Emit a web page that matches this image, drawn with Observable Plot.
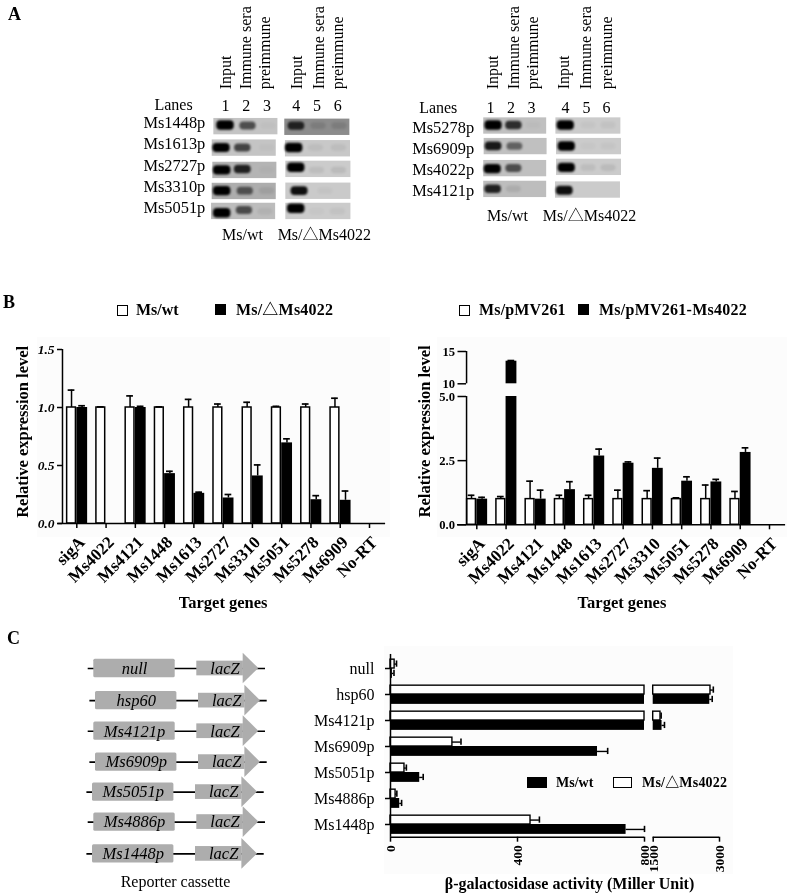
<!DOCTYPE html>
<html><head><meta charset="utf-8">
<script src="https://cdn.jsdelivr.net/npm/d3@7"></script>
<script src="https://cdn.jsdelivr.net/npm/@observablehq/plot@0.6"></script>
<style>
html,body{margin:0;padding:0;background:#fff}
#page{position:relative;width:787px;height:894px;overflow:hidden;filter:blur(.35px);font-family:"Liberation Serif","Noto Sans CJK SC",serif;color:#000}
#page svg{position:absolute;background:transparent;overflow:visible;max-width:none}
.t{position:absolute;white-space:nowrap;line-height:1;font-weight:bold}
.sw{position:absolute;box-sizing:border-box;border:1.6px solid #000}
.bg{position:absolute;background:#fcfcfc}
</style></head><body><div id="page"></div>
<script>
// ---------- Panel A : gel readings (one row per promoter, one value per lane)
const gelLanesL = ["1","2","3","4","5","6"];
const gelHeaders = ["Input","Immune sera","preimmune","Input","Immune sera","preimmune"];
const promotersL = ["Ms1448p","Ms1613p","Ms2727p","Ms3310p","Ms5051p"];
const promotersR = ["Ms5278p","Ms6909p","Ms4022p","Ms4121p"];
const signalL = [[1,.55,.02,.7,.1,.1],[.95,.6,.02,1,.05,.05],[1,.75,.02,1,.06,.07],[1,.5,.07,.85,.03,0],[1,.55,.05,1,.02,.04]];
const signalR = [[1,.7,.02,1,.03,.04],[.8,.45,0,1,.02,.03],[.95,.55,0,1,.06,.07],[.75,.08,0,.85,0,0]];
const bandLaneL = [[1,2.08,3.07,4.41,5.47,6.48],[.81,1.83,3,4.3,5.35,6.45],[.84,1.83,3,4.4,5.4,6.45],[.84,1.95,3,4.56,5.8,6.4],[.84,1.91,2.92,4.4,5.4,6.4]];
const bandRowL = [[.94,.97,.97,.97,.97,.97],[2,2,2,2,2,2],[3.05,3.01,3.05,2.93,3.06,3.06],[4.03,4.03,4.03,4.03,4.03,4.03],[5.07,4.94,5,4.86,5,5]];
const bandLaneR = [[1.15,2.14,3.1,4.67,5.78,6.76],[1.15,2.19,3.1,4.72,5.78,6.76],[1.11,2.14,3.1,4.72,5.78,6.76],[1.13,2.14,3.1,4.62,5.7,6.7]];
const bandRowR = [[.99,.99,.99,.99,.99,.99],[1.98,1.98,1.98,1.98,1.98,1.98],[3.05,3.02,3.02,2.99,3,3],[4,4,4,4.07,4,4]];
const stripLeftL = [[.44,3.85],[.36,3.88],[.39,3.9],[.36,3.9],[.33,3.9]];
const stripTopL = [[.61,.64],[1.62,1.65],[2.67,2.62],[3.66,3.65],[4.6,4.6]];
const stripLeftR = [[.67,4.19],[.69,4.22],[.67,4.22],[.67,4.17]];
const stripTopR = [[.63,.63],[1.6,1.6],[2.64,2.58],[3.62,3.65]];
const stripGreyL = [[196,140],[196,200],[180,203],[173,202],[188,203]];
const stripGreyR = [[192,203],[192,203],[192,203],[189,203]];
const headerLaneL = [1,1.96,2.87,4.44,5.5,6.41];
const headerLaneR = [1.13,2.12,3.08,4.56,5.63,6.66];
const numberLaneL = [1,2,3,4.4,5.4,6.4];
const numberLaneR = [1,2,3,4.66,5.68,6.66];

// ---------- Panel B : relative expression
const targetGenes = ["sigA","Ms4022","Ms4121","Ms1448","Ms1613","Ms2727","Ms3310","Ms5051","Ms5278","Ms6909","No-RT"];
const wtExpr  = [1,1,1,1,1,1,1,1,1,1,0];
const wtTop   = [1.15,1.005,1.1,1.005,1.07,1.03,1.045,1.01,1.03,1.08,0];
const delExpr = [1,0,1,.43,.26,.22,.41,.695,.205,.2,0];
const delTop  = [1.015,0,1.01,.45,.27,.25,.505,.73,.24,.28,0];
const vecExpr = [1,1,1,1,1,1,1,1,1,1,0];
const vecTop  = [1.15,1.1,1.7,1.15,1.15,1.35,1.33,1.05,1.55,1.3,0];
const oeExpr  = [1,13.5,1,1.37,2.68,2.4,2.2,1.7,1.67,2.82,0];
const oeTop   = [1.07,13.6,1.35,1.68,2.95,2.45,2.6,1.87,1.77,3,0];
const ticksBL = [0,.5,1,1.5];
const ticksBR = [0,2.5,5,10,15];

// ---------- Panel C : beta-galactosidase activity
const reporters = ["null","hsp60","Ms4121p","Ms6909p","Ms5051p","Ms4886p","Ms1448p"];
const wtMiller = [6,2780,1700,652,92,29,742];
const wtMillerTop = [11,2835,1755,684,103,35,800];
const delMiller = [13,2796,1665,195,44,16,441];
const delMillerTop = [19,2860,1680,222,50,20,469];
const ticksC = [0,400,800,1500,3000];
const cassetteShift = [0,1.7,0,1.7,-1.3,0,-1.3];
const cassetteRowShift = [0,.04,.03,.03,0,-.03,0];

const SERIF = '"Liberation Serif","Noto Sans CJK SC",serif';
const page = document.getElementById("page");
function place(svg, left, top){ svg.style.left = left+"px"; svg.style.top = top+"px"; page.appendChild(svg); return svg; }
function txt(s, left, top, size, extra){ const d=document.createElement("div"); d.className="t"; d.textContent=s; d.style.left=left+"px"; d.style.top=top+"px"; d.style.fontSize=size+"px"; Object.assign(d.style, extra||{}); page.appendChild(d); return d; }
function box(left, top, w, h, fill){ const d=document.createElement("div"); d.className="sw"; Object.assign(d.style,{left:left+"px",top:top+"px",width:w+"px",height:h+"px",background:fill}); page.appendChild(d); }
function bg(left, top, w, h){ const d=document.createElement("div"); d.className="bg"; Object.assign(d.style,{left:left+"px",top:top+"px",width:w+"px",height:h+"px"}); page.appendChild(d); }

// panel letters
txt("A",8,5,18);
txt("B",3,293,18);
txt("C",7,629,18);

// ---------- gel
function gel(cfg){
  const {left,width,x0,pitch,y0,rowPitch,names,signal,lanes,rows,stripLeft,stripTop,grey,stripW,headerLane,numberLane,lanesLabel,labelEnd,labelShift,capRow,capWt,capDel,lanesRow,lanesX} = cfg;
  const strips=[], bands=[];
  names.forEach((n,r)=>{
    [0,1].forEach(g=>strips.push({x1:stripLeft[r][g],x2:stripLeft[r][g]+stripW[g],y1:stripTop[r][g],y2:stripTop[r][g]+.77,g:grey[r][g]}));
    signal[r].forEach((s,l)=>bands.push({x:lanes[r][l],y:rows[r][l],s}));
  });
  const H=250;
  const svg=Plot.plot({
    width,height:H,margin:0,
    x:{type:"linear",domain:[1-(x0-left)/pitch,1+(left+width-x0)/pitch],range:[0,width],axis:null},
    y:{type:"linear",domain:[-y0/rowPitch,(H-y0)/rowPitch],range:[0,H],axis:null},
    style:{background:"transparent",fontFamily:SERIF},
    marks:[
      Plot.rect(strips,{x1:"x1",x2:"x2",y1:"y1",y2:"y2",fill:d=>d3.rgb(d.g,d.g,d.g).formatHex()}),
      Plot.rect(bands,{x1:d=>d.x-(.36+.06*d.s),x2:d=>d.x+(.36+.06*d.s),y1:d=>d.y-(.15+.07*d.s),y2:d=>d.y+(.15+.07*d.s),fill:"#000",fillOpacity:d=>Math.min(1,d.s*1.1),rx:4}),
      Plot.text(gelHeaders,{x:(d,i)=>headerLane[i],y:cfg.headerRow,rotate:-90,textAnchor:"start",text:d=>d,fontSize:16,fill:"#000"}),
      Plot.text(gelLanesL,{x:(d,i)=>numberLane[i],y:lanesRow+.04,text:d=>d,fontSize:16,fill:"#000"}),
      Plot.text([lanesLabel],{x:lanesX,y:lanesRow,text:d=>d,fontSize:16,fill:"#000"}),
      Plot.text(names,{x:labelEnd,y:(d,i)=>i+1+labelShift,text:d=>d,textAnchor:"end",fontSize:16.4,fill:"#000"}),
      Plot.text(["Ms/wt"],{x:capWt,y:capRow,text:d=>d,fontSize:16,fill:"#000"}),
      Plot.text(["Ms/△Ms4022"],{x:capDel,y:capRow,text:d=>d,fontSize:16,fill:"#000"})
    ]
  });
  const gs=svg.querySelectorAll('g[aria-label="rect"]');
  if(gs[0]) gs[0].style.filter="blur(.5px)";
  if(gs[1]) gs[1].style.filter="blur(1.1px)";
  place(svg,left,0);
}
gel({left:130,width:250,x0:225,pitch:20.8,y0:105,rowPitch:21.25,names:promotersL,signal:signalL,lanes:bandLaneL,rows:bandRowL,stripLeft:stripLeftL,stripTop:stripTopL,grey:stripGreyL,stripW:[3.08,3.13],headerLane:headerLaneL,numberLane:numberLaneL,lanesLabel:"Lanes",labelEnd:.03,labelShift:-.18,capRow:6.1,capWt:1.82,capDel:5.75,lanesRow:-.03,lanesX:-1.5,headerRow:-.76});
gel({left:400,width:250,x0:490,pitch:20.5,y0:104,rowPitch:21.2,names:promotersR,signal:signalR,lanes:bandLaneR,rows:bandRowR,stripLeft:stripLeftR,stripTop:stripTopR,grey:stripGreyR,stripW:[3.07,3.17],headerLane:headerLaneR,numberLane:numberLaneR,lanesLabel:"Lanes",labelEnd:.2,labelShift:.08,capRow:5.24,capWt:1.83,capDel:5.83,lanesRow:.14,lanesX:-1.55,headerRow:-.72});

// ---------- expression bars
function exprChart(cfg){
  const {left,top,width,height,names,white,whiteTop,black,blackTop,xRange,yDomain,yRange,baseline,axisX,ticks,tickFormat,tickFont,segments,yAxisSegs,labelX,labelY,titleX,titleRow}=cfg;
  const idx=names.map((_,i)=>i);
  const segs=segments||[yDomain];
  const blackBars=[];
  idx.filter(i=>black[i]>0).forEach(i=>segs.forEach(([a,b])=>{ if(black[i]>a) blackBars.push({i,a,b:Math.min(black[i],b)}); }));
  const svg=Plot.plot({
    width,height,marginLeft:axisX,marginBottom:height-baseline,marginTop:yRange[yRange.length-1],marginRight:width-xRange[1],
    x:{type:"linear",domain:[0,10],range:xRange},
    y:{type:"linear",domain:yDomain,range:yRange},
    style:{background:"transparent",fontFamily:SERIF},
    marks:[
      Plot.rect(idx.filter(i=>white[i]>0),{x1:i=>i-.33,x2:i=>i-.03,y1:0,y2:i=>white[i],fill:"#fff",stroke:"#000",strokeWidth:1.5}),
      Plot.ruleX(idx.filter(i=>white[i]>0),{x:i=>i-.18,y1:i=>white[i],y2:i=>whiteTop[i],stroke:"#000",strokeWidth:1.5}),
      Plot.ruleY(idx.filter(i=>white[i]>0),{y:i=>whiteTop[i],x1:i=>i-.295,x2:i=>i-.065,stroke:"#000",strokeWidth:1.7}),
      Plot.rect(blackBars,{x1:d=>d.i,x2:d=>d.i+.37,y1:"a",y2:"b",fill:"#000"}),
      Plot.ruleX(idx.filter(i=>black[i]>0),{x:i=>i+.18,y1:i=>black[i],y2:i=>blackTop[i],stroke:"#000",strokeWidth:1.5}),
      Plot.ruleY(idx.filter(i=>black[i]>0),{y:i=>blackTop[i],x1:i=>i+.065,x2:i=>i+.295,stroke:"#000",strokeWidth:1.7}),
      Plot.ruleY([0],{x1:cfg.xLineFrom,x2:cfg.xLineTo,stroke:"#000",strokeWidth:1.5}),
      ...(yAxisSegs).map(([a,b])=>Plot.ruleX([cfg.yLineAt],{y1:a,y2:b,stroke:"#000",strokeWidth:1.5})),
      Plot.axisY({ticks,tickFormat,tickSize:cfg.tickLen,tickPadding:3,strokeWidth:1.5,stroke:"#000",fill:"#000",fontFamily:SERIF,fontSize:tickFont,fontWeight:"bold",fontStyle:cfg.italic?"italic":"normal",label:null}),
      Plot.axisX({ticks:idx,tickSize:5,text:null,strokeWidth:1.5,stroke:"#000",label:null}),
      Plot.text(idx,{x:i=>i,y:0,text:i=>names[i],rotate:-45,textAnchor:"end",dx:5,dy:16,fill:"#000",fontFamily:SERIF,fontSize:17,fontWeight:"bold"}),
      Plot.text(["Relative expression level"],{x:labelX,y:labelY,rotate:-90,text:d=>d,fontSize:16.5,fontWeight:"bold",fill:"#000"}),
      Plot.text(["Target genes"],{x:titleX,y:titleRow,text:d=>d,fontSize:16.5,fontWeight:"bold",fill:"#000"})
    ]
  });
  place(svg,left,top);
}
bg(37,337,353,200);
bg(437,337,350,200);
exprChart({left:0,top:330,width:395,height:285,names:targetGenes,white:wtExpr,whiteTop:wtTop,black:delExpr,blackTop:delTop,xRange:[76.3,369],yDomain:[0,1.5],yRange:[193,19],baseline:193,axisX:62,ticks:ticksBL,tickFormat:d3.format(".1f"),tickFont:13.5,italic:true,xLineFrom:-.64,xLineTo:10.55,yLineAt:-.489,yAxisSegs:[[0,1.5]],tickLen:5,labelX:-1.84,labelY:.79,titleX:5,titleRow:-.68});
exprChart({left:395,top:330,width:392,height:285,names:targetGenes,white:vecExpr,whiteTop:vecTop,black:oeExpr,blackTop:oeTop,xRange:[81.3,374],yDomain:[0,5,10,15],yRange:[194.3,66,53.3,21],baseline:194.3,axisX:71,ticks:ticksBR,tickFormat:d=>d>=10?String(d):d3.format(".1f")(d),tickFont:12.6,italic:false,xLineFrom:-.66,xLineTo:10.55,yLineAt:-.35,yAxisSegs:[[0,5],[10,15]],tickLen:8.5,segments:[[0,5],[10,15]],labelX:-1.79,labelY:3.64,titleX:4.96,titleRow:-3.03});

// legends B
box(116.5,304.5,11,11,"#fff"); txt("Ms/wt",136,302,16);
box(215,304,11,11,"#000"); txt("Ms/△Ms4022",236,302,16,{letterSpacing:".2px"});
box(459,304.5,11,11,"#fff"); txt("Ms/pMV261",479,302,16,{letterSpacing:".15px"});
box(578,304,11,11,"#000"); txt("Ms/pMV261-Ms4022",599,302,16,{letterSpacing:".25px"});

// ---------- cassette schematic
(function(){
  const rows=reporters.map((n,i)=>({n,i,r:i+cassetteRowShift[i],s:cassetteShift[i]}));
  const heads=rows.flatMap(d=>[{k:d.n,x:242.7+d.s,y1:d.r-.497,y2:d.r+.497},{k:d.n,x:258.3+d.s,y1:d.r,y2:d.r}]);
  const svg=Plot.plot({
    width:300,height:250,margin:0,
    x:{type:"linear",domain:[0,300],range:[0,300],axis:null},
    y:{type:"linear",domain:[0,6],range:[28,213.4],axis:null},
    style:{background:"transparent",fontFamily:SERIF},
    marks:[
      Plot.ruleY(rows,{y:"r",x1:d=>87.7+d.s,x2:d=>265+d.s,stroke:"#000",strokeWidth:1.7}),
      Plot.rect(rows,{x1:d=>93.3+d.s,x2:d=>174.7+d.s,y1:d=>d.r-.296,y2:d=>d.r+.296,fill:"#adadad",rx:1.5}),
      Plot.rect(rows,{x1:d=>196.3+d.s,x2:d=>242.9+d.s,y1:d=>d.r-.238,y2:d=>d.r+.238,fill:"#adadad"}),
      Plot.areaY(heads,{x:"x",y1:"y1",y2:"y2",z:"k",fill:"#adadad"}),
      Plot.text(rows,{x:d=>134+d.s,y:"r",text:"n",fontStyle:"italic",fontSize:16.5,fill:"#000"}),
      Plot.text(rows,{x:d=>224.5+d.s,y:"r",text:()=>"lacZ",fontStyle:"italic",fontSize:16.5,fill:"#000"}),
      Plot.text(["Reporter cassette"],{x:175,y:6.92,text:d=>d,fontSize:16,fill:"#000"})
    ]
  });
  place(svg,0,640);
})();

// ---------- beta-gal bars
(function(){
  const idx=reporters.map((_,i)=>i);
  const segs=[[0,800],[1500,3000]];
  const split=v=>idx.flatMap(i=>segs.filter(([a])=>v[i]>a).map(([a,b])=>({i,a,b:Math.min(v[i],b)})));
  const whiteSegs=split(delMiller), blackSegs=split(wtMiller);
  const svg=Plot.plot({
    width:450,height:249,marginLeft:90,marginBottom:57.3,marginTop:9,marginRight:31,
    x:{type:"linear",domain:[0,800,1500,3000],range:[90,344,352.7,419]},
    y:{type:"linear",domain:[0,6],range:[23,179]},
    style:{background:"transparent",fontFamily:SERIF},
    marks:[
      Plot.rect(whiteSegs,{x1:"a",x2:"b",y1:d=>d.i-.34,y2:d=>d.i,fill:"#fff",stroke:"#000",strokeWidth:1.4}),
      Plot.ruleY(idx,{y:i=>i-.17,x1:i=>delMiller[i],x2:i=>delMillerTop[i],stroke:"#000",strokeWidth:1.4}),
      Plot.ruleX(idx,{x:i=>delMillerTop[i],y1:i=>i-.29,y2:i=>i-.05,stroke:"#000",strokeWidth:1.6}),
      Plot.rect(blackSegs,{x1:"a",x2:"b",y1:d=>d.i,y2:d=>d.i+.38,fill:"#000"}),
      Plot.ruleY(idx,{y:i=>i+.19,x1:i=>wtMiller[i],x2:i=>wtMillerTop[i],stroke:"#000",strokeWidth:1.4}),
      Plot.ruleX(idx,{x:i=>wtMillerTop[i],y1:i=>i+.07,y2:i=>i+.31,stroke:"#000",strokeWidth:1.6}),
      Plot.ruleX([0],{y1:-.54,y2:6.49,stroke:"#000",strokeWidth:1.5}),
      Plot.ruleY([6.49],{x1:0,x2:800,stroke:"#000",strokeWidth:1.5}),
      Plot.ruleY([6.49],{x1:1500,x2:3000,stroke:"#000",strokeWidth:1.5}),
      Plot.axisY({ticks:idx,tickFormat:i=>reporters[i],tickSize:5,tickPadding:11,strokeWidth:1.5,stroke:"#000",fill:"#000",fontFamily:SERIF,fontSize:16,label:null}),
      Plot.axisX({ticks:ticksC,tickRotate:-90,tickSize:5,tickPadding:3,strokeWidth:1.5,stroke:"#000",fill:"#000",fontFamily:SERIF,fontSize:13.5,fontWeight:"bold",tickFormat:d=>String(d),label:null}),
      Plot.text(["β-galactosidase activity (Miller Unit)"],{x:564,y:8.27,text:d=>d,fontSize:16,fontWeight:"bold",fill:"#000"})
    ]
  });
  bg(384,646,349,228);
  place(svg,300,645);
})();
// legend C
box(527,777,20,11,"#000"); txt("Ms/wt",556,776,14);
box(613,777,19,11,"#fff"); txt("Ms/△Ms4022",642,776,14,{letterSpacing:".2px"});
</script></body></html>
